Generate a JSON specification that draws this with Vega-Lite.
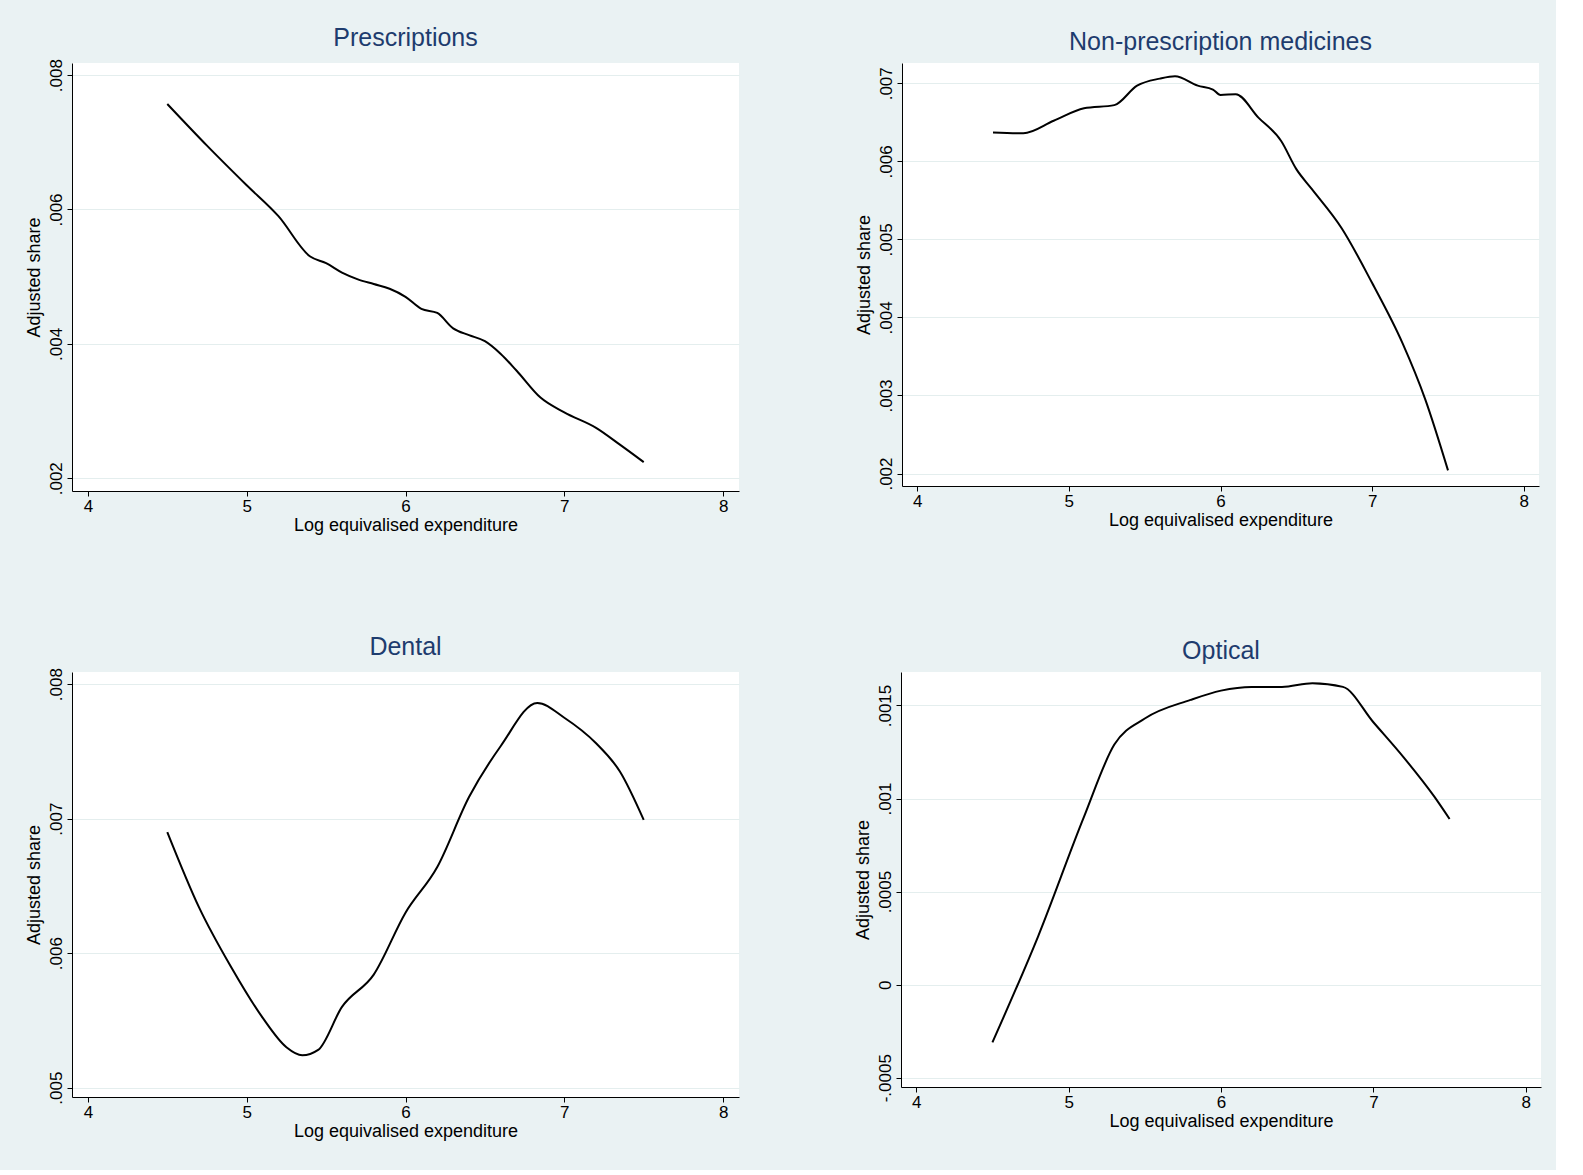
{
"$schema":"https://vega.github.io/schema/vega-lite/v6.json",
"background":"#EAF2F3",
"padding":{"left":25,"top":25,"right":15,"bottom":30},
"spacing":100,
"config":{"font":"Liberation Sans","view":{"fill":"white","stroke":null},
"title":{"color":"#1E3C6E","fontSize":25,"fontWeight":"normal","offset":8},
"axis":{"labelFont":"Liberation Sans","titleFont":"Liberation Sans","labelFontSize":17,"titleFontSize":18,"titleFontWeight":"normal","labelColor":"black","titleColor":"black","domainColor":"black","tickColor":"black","gridColor":"#E4EEEE"}},
"datasets":{
"p":[{"x":4.5,"y":0.00757},{"x":4.75,"y":0.00695},{"x":5.0,"y":0.00636},{"x":5.2,"y":0.0059},{"x":5.4,"y":0.0053},{"x":5.5,"y":0.0052},{"x":5.6,"y":0.00506},{"x":5.7,"y":0.00496},{"x":5.8,"y":0.00489},{"x":5.9,"y":0.00482},{"x":6.0,"y":0.0047},{"x":6.1,"y":0.00452},{"x":6.2,"y":0.00446},{"x":6.3,"y":0.00423},{"x":6.4,"y":0.00413},{"x":6.5,"y":0.00404},{"x":6.6,"y":0.00385},{"x":6.7,"y":0.0036},{"x":6.85,"y":0.0032},{"x":7.0,"y":0.00298},{"x":7.2,"y":0.00275},{"x":7.35,"y":0.0025},{"x":7.5,"y":0.00224}],
"n":[{"x":4.5,"y":0.00637},{"x":4.7,"y":0.00636},{"x":4.9,"y":0.00652},{"x":5.1,"y":0.00668},{"x":5.3,"y":0.00672},{"x":5.45,"y":0.00697},{"x":5.6,"y":0.00706},{"x":5.7,"y":0.00709},{"x":5.85,"y":0.00697},{"x":5.95,"y":0.00692},{"x":6.0,"y":0.00685},{"x":6.1,"y":0.00686},{"x":6.25,"y":0.00656},{"x":6.4,"y":0.00626},{"x":6.5,"y":0.0059},{"x":6.6,"y":0.00565},{"x":6.8,"y":0.00514},{"x":7.0,"y":0.00444},{"x":7.2,"y":0.00367},{"x":7.35,"y":0.00295},{"x":7.5,"y":0.00204}],
"d":[{"x":4.5,"y":0.0069},{"x":4.7,"y":0.00634},{"x":4.9,"y":0.0059},{"x":5.1,"y":0.00552},{"x":5.25,"y":0.0053},{"x":5.35,"y":0.00524},{"x":5.45,"y":0.00528},{"x":5.6,"y":0.0056},{"x":5.8,"y":0.00584},{"x":6.0,"y":0.0063},{"x":6.2,"y":0.00664},{"x":6.4,"y":0.00716},{"x":6.6,"y":0.00754},{"x":6.83,"y":0.00786},{"x":7.0,"y":0.00775},{"x":7.2,"y":0.00756},{"x":7.35,"y":0.00735},{"x":7.5,"y":0.00699}],
"o":[{"x":4.5,"y":-0.00031},{"x":4.8,"y":0.00026},{"x":5.1,"y":0.0009},{"x":5.3,"y":0.00129},{"x":5.5,"y":0.00143},{"x":5.8,"y":0.00153},{"x":6.0,"y":0.00158},{"x":6.2,"y":0.0016},{"x":6.4,"y":0.0016},{"x":6.6,"y":0.00162},{"x":6.8,"y":0.0016},{"x":7.0,"y":0.00141},{"x":7.2,"y":0.00122},{"x":7.4,"y":0.00101},{"x":7.5,"y":0.00089}]},
"vconcat":[{"spacing":115,"hconcat":[
{"title":"Prescriptions","width":667,"height":428,"data":{"name":"p"},"mark":{"type":"line","color":"black","strokeWidth":2,"interpolate":"monotone"},
"encoding":{"x":{"field":"x","type":"quantitative","scale":{"domain":[3.9,8.1],"nice":false},"axis":{"values":[4,5,6,7,8],"grid":false,"title":"Log equivalised expenditure","titlePadding":2}},
"y":{"field":"y","type":"quantitative","scale":{"domain":[0.00181,0.00818],"nice":false},"axis":{"values":[0.002,0.004,0.006,0.008],"labelAngle":-90,"labelAlign":"center","labelBaseline":"bottom","labelExpr":"replace(format(datum.value,'.3f'),'0.','.')","title":"Adjusted share","titlePadding":4}}}},
{"title":"Non-prescription medicines","width":637,"height":423,"data":{"name":"n"},"mark":{"type":"line","color":"black","strokeWidth":2,"interpolate":"monotone"},
"encoding":{"x":{"field":"x","type":"quantitative","scale":{"domain":[3.9,8.1],"nice":false},"axis":{"values":[4,5,6,7,8],"grid":false,"title":"Log equivalised expenditure","titlePadding":2}},
"y":{"field":"y","type":"quantitative","scale":{"domain":[0.00184,0.00726],"nice":false},"axis":{"values":[0.002,0.003,0.004,0.005,0.006,0.007],"labelAngle":-90,"labelAlign":"center","labelBaseline":"bottom","labelExpr":"replace(format(datum.value,'.3f'),'0.','.')","title":"Adjusted share","titlePadding":4}}}}]},
{"spacing":115,"hconcat":[
{"title":"Dental","width":667,"height":425,"data":{"name":"d"},"mark":{"type":"line","color":"black","strokeWidth":2,"interpolate":"monotone"},
"encoding":{"x":{"field":"x","type":"quantitative","scale":{"domain":[3.9,8.1],"nice":false},"axis":{"values":[4,5,6,7,8],"grid":false,"title":"Log equivalised expenditure","titlePadding":2}},
"y":{"field":"y","type":"quantitative","scale":{"domain":[0.00493,0.00809],"nice":false},"axis":{"values":[0.005,0.006,0.007,0.008],"labelAngle":-90,"labelAlign":"center","labelBaseline":"bottom","labelExpr":"replace(format(datum.value,'.3f'),'0.','.')","title":"Adjusted share","titlePadding":4}}}},
{"title":"Optical","width":640,"height":415,"data":{"name":"o"},"mark":{"type":"line","color":"black","strokeWidth":2,"interpolate":"monotone"},
"encoding":{"x":{"field":"x","type":"quantitative","scale":{"domain":[3.9,8.1],"nice":false},"axis":{"values":[4,5,6,7,8],"grid":false,"title":"Log equivalised expenditure","titlePadding":2}},
"y":{"field":"y","type":"quantitative","scale":{"domain":[-0.00055,0.00168],"nice":false},"axis":{"values":[-0.0005,0,0.0005,0.001,0.0015],"labelAngle":-90,"labelAlign":"center","labelBaseline":"bottom","labelExpr":"datum.value==0?'0':replace(replace(format(datum.value,'.4~f'),'0.','.'),'−','-')","title":"Adjusted share","titlePadding":4}}}}]}]
}
